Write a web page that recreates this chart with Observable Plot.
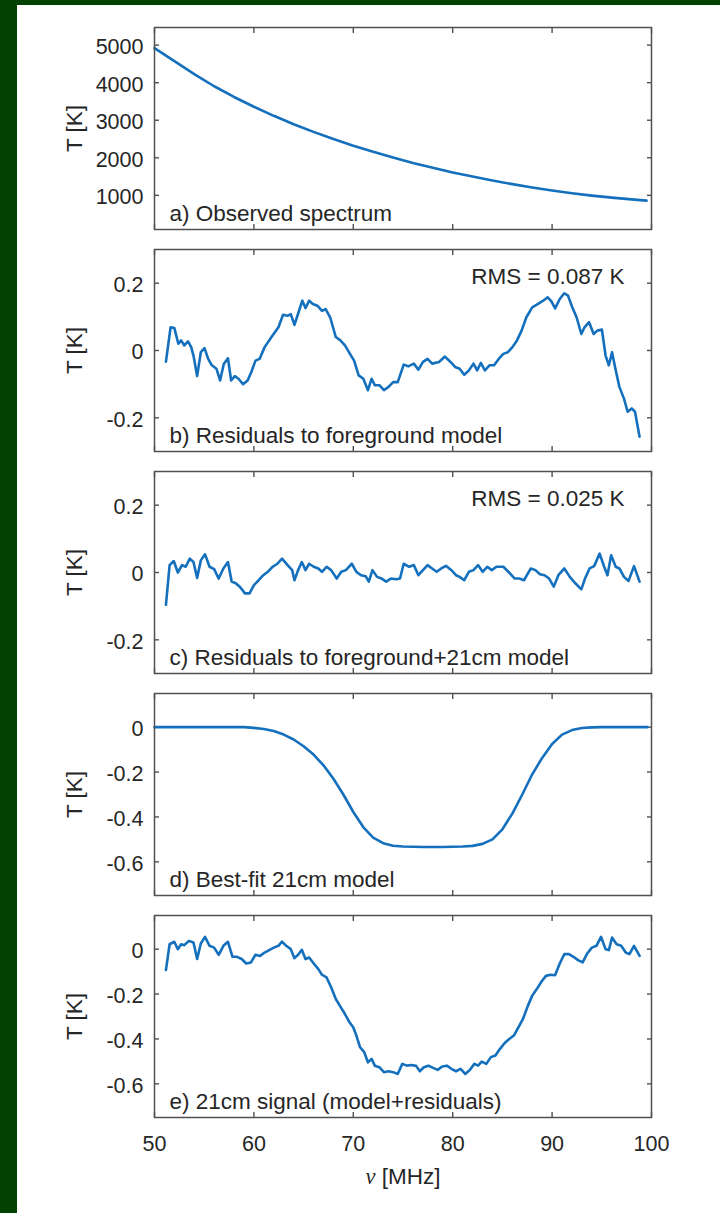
<!DOCTYPE html>
<html>
<head>
<meta charset="utf-8">
<script src="https://cdn.jsdelivr.net/npm/d3@7"></script>
<script src="https://cdn.jsdelivr.net/npm/@observablehq/plot@0.6"></script>
<style>
  html, body { margin: 0; padding: 0; }
  body { width: 720px; height: 1213px; background: #014101; position: relative; overflow: hidden; }
  #sheet { position: absolute; left: 17px; top: 5px; width: 703px; height: 1208px; background: #fff; }
  .panel { position: absolute; left: 0; }
</style>
</head>
<body>
<div id="sheet"></div>
<div id="chart"></div>
<script>
// ---------------- data ----------------
const xTicks = [50, 60, 70, 80, 90, 100];
const yTicksA = [1000, 2000, 3000, 4000, 5000];
const yTicksRes = [-0.2, 0, 0.2];
const yTicksSig = [-0.6, -0.4, -0.2, 0];

const panelLabels = [
  "a) Observed spectrum",
  "b) Residuals to foreground model",
  "c) Residuals to foreground+21cm model",
  "d) Best-fit 21cm model",
  "e) 21cm signal (model+residuals)"
];
const rmsLabels = ["RMS = 0.087 K", "RMS = 0.025 K"];
const yLabel = "T [K]";
const xLabel = "ν [MHz]";

// a) observed spectrum
const freqA = [50,52,54,56,58,60,62,64,66,68,70,72,74,76,78,80,82,84,86,88,90,92,94,96,98,99.5];
const tempA = [4920,4575,4230,3905,3620,3360,3118,2895,2690,2498,2320,2158,2005,1862,1732,1610,1500,1395,1298,1208,1127,1055,992,938,892,860];

// b) residuals to foreground model
const freqB = [51.15,51.62,51.99,52.40,52.68,53.00,53.37,53.69,53.92,54.29,54.66,55.03,55.40,55.77,56.23,56.60,56.97,57.39,57.71,58.08,58.45,58.91,59.37,59.74,60.16,60.57,61.08,61.77,62.47,62.93,63.39,63.71,64.08,64.54,64.87,65.19,65.56,65.93,66.39,66.85,67.22,67.68,68.24,68.70,69.16,69.62,70.08,70.54,71.01,71.47,71.84,72.16,72.62,73.08,73.55,74.01,74.47,75.07,75.53,76.09,76.55,77.01,77.47,77.93,78.62,79.22,79.78,80.24,80.70,81.16,81.63,82.09,82.46,82.83,83.24,83.70,84.16,84.63,85.09,85.55,86.01,86.47,86.93,87.40,88.00,88.55,89.10,89.56,89.93,90.30,90.77,91.23,91.60,92.01,92.47,92.94,93.26,93.72,94.18,94.55,95.01,95.38,95.71,96.03,96.40,96.77,97.23,97.60,98.01,98.34,98.80];
const resB = [-0.033,0.069,0.067,0.02,0.03,0.015,0.027,0.01,-0.015,-0.076,-0.005,0.007,-0.025,-0.044,-0.054,-0.089,-0.04,-0.023,-0.089,-0.076,-0.084,-0.10,-0.089,-0.064,-0.03,-0.025,0.01,0.04,0.069,0.106,0.103,0.108,0.076,0.118,0.148,0.126,0.148,0.138,0.133,0.118,0.123,0.098,0.04,0.03,0.015,-0.008,-0.03,-0.074,-0.084,-0.118,-0.084,-0.103,-0.103,-0.118,-0.108,-0.094,-0.094,-0.042,-0.047,-0.039,-0.057,-0.034,-0.025,-0.039,-0.034,-0.018,-0.034,-0.049,-0.054,-0.072,-0.059,-0.039,-0.059,-0.037,-0.059,-0.044,-0.044,-0.025,-0.01,-0.005,0.01,0.03,0.059,0.098,0.128,0.138,0.148,0.158,0.146,0.125,0.153,0.17,0.163,0.13,0.098,0.049,0.069,0.084,0.049,0.059,0.062,-0.015,-0.044,-0.005,-0.059,-0.108,-0.143,-0.182,-0.172,-0.182,-0.256];

// c) residuals to foreground + 21cm model
const freqC = [51.15,51.52,51.94,52.35,52.77,53.14,53.55,53.92,54.29,54.66,55.08,55.54,56.00,56.46,56.93,57.39,57.76,58.17,58.63,59.10,59.56,60.02,60.48,60.94,61.40,61.87,62.37,62.83,63.39,63.85,64.08,64.45,64.82,65.19,65.56,66.02,66.48,66.85,67.31,67.77,68.33,68.79,69.25,69.85,70.31,70.78,71.24,71.56,71.93,72.39,72.85,73.31,73.78,74.33,74.70,75.07,75.62,76.09,76.55,77.01,77.47,77.93,78.39,78.85,79.32,79.87,80.33,80.70,81.16,81.63,82.09,82.55,83.01,83.47,83.93,84.40,85.09,85.78,86.24,86.70,87.17,87.86,88.32,88.78,89.24,89.70,90.17,90.63,91.23,91.78,92.34,92.94,93.31,93.77,94.23,94.78,95.24,95.57,95.94,96.40,96.77,97.23,97.69,98.24,98.80];
const resC = [-0.096,0.022,0.034,0,0.022,0.017,0.041,0.031,-0.016,0.036,0.054,0.017,0.01,-0.018,0.012,0.031,-0.027,-0.032,-0.044,-0.062,-0.062,-0.037,-0.023,-0.008,0.002,0.017,0.026,0.041,0.022,0.007,-0.023,0.007,0.031,0.007,0.026,0.017,0.012,0.002,0.017,0.007,-0.018,0.002,0.007,0.026,0.002,-0.008,-0.011,-0.027,0.007,-0.013,-0.018,-0.027,-0.018,-0.02,-0.018,0.026,0.017,0.022,-0.008,0.007,0.022,0.012,0.002,0.012,0.02,0.007,-0.008,-0.013,-0.023,0.002,0.007,0.022,0.002,0.017,0.007,0.017,0.017,-0.003,-0.018,-0.018,-0.023,0.012,0.007,-0.005,-0.008,-0.018,-0.042,-0.008,0.012,-0.013,-0.032,-0.05,-0.018,0.012,0.019,0.056,0.017,-0.008,0.051,0.017,0.012,-0.013,-0.025,0.019,-0.027];

// d) best-fit 21cm model
const freqD = [50,51,52,53,54,55,56,57,58,59,60,61,62,63,64,65,66,67,68,69,70,71,72,73,74,75,76,77,78,79,80,81,82,83,84,85,86,87,88,89,90,91,92,93,94,95,96,97,98,99,99.6];
const modelD = [0,0,0,0,0,0,0,0,0,0,-0.003,-0.008,-0.017,-0.033,-0.055,-0.085,-0.122,-0.17,-0.23,-0.30,-0.378,-0.445,-0.492,-0.517,-0.528,-0.532,-0.533,-0.534,-0.534,-0.534,-0.533,-0.532,-0.529,-0.52,-0.50,-0.455,-0.385,-0.30,-0.21,-0.137,-0.075,-0.033,-0.013,-0.004,-0.001,0,0,0,0,0,0];

// e) 21cm signal (model + residuals)
const freqE = [51.15,51.52,51.99,52.35,52.68,53.00,53.46,53.92,54.29,54.66,55.08,55.54,56.00,56.46,56.93,57.39,57.85,58.31,58.77,59.23,59.70,60.16,60.62,61.08,61.54,62.00,62.47,62.83,63.25,63.71,64.08,64.45,64.82,65.19,65.56,66.02,66.48,66.85,67.31,67.77,68.24,68.70,69.16,69.62,69.99,70.31,70.68,71.10,71.47,71.84,72.16,72.62,73.08,73.55,74.01,74.47,74.93,75.39,75.85,76.32,76.69,77.10,77.56,78.02,78.49,78.95,79.41,79.87,80.33,80.79,81.26,81.72,82.18,82.55,82.92,83.38,83.84,84.30,84.76,85.23,85.69,86.15,86.61,87.07,87.53,88.00,88.46,88.92,89.38,89.84,90.30,90.77,91.23,91.69,92.15,92.61,93.07,93.54,94.00,94.46,94.92,95.38,95.71,96.03,96.49,96.95,97.41,97.78,98.24,98.80];
const signalE = [-0.093,0.022,0.033,0,0.022,0.018,0.037,0.03,-0.044,0.025,0.055,0.015,0.007,-0.025,0.015,0.033,-0.034,-0.034,-0.044,-0.064,-0.059,-0.025,-0.03,-0.015,-0.004,0.007,0.015,0.034,0.015,0,-0.04,-0.025,-0.003,-0.044,-0.037,-0.064,-0.089,-0.114,-0.126,-0.17,-0.222,-0.256,-0.289,-0.326,-0.348,-0.385,-0.437,-0.459,-0.504,-0.489,-0.519,-0.526,-0.548,-0.544,-0.548,-0.556,-0.511,-0.519,-0.516,-0.52,-0.544,-0.526,-0.519,-0.529,-0.538,-0.523,-0.519,-0.533,-0.544,-0.533,-0.556,-0.538,-0.511,-0.519,-0.501,-0.511,-0.481,-0.474,-0.444,-0.418,-0.4,-0.385,-0.348,-0.311,-0.256,-0.207,-0.178,-0.145,-0.119,-0.114,-0.116,-0.064,-0.022,-0.022,-0.034,-0.049,-0.059,-0.019,0.007,0.015,0.055,0,-0.004,0.052,0.022,0.015,-0.015,-0.022,0.015,-0.03];

// ---------------- drawing ----------------
const zip = (xs, ys) => xs.slice(0, Math.min(xs.length, ys.length)).map((f, i) => ({f, v: ys[i]}));
const BLUE = "#1470bd";
const AXIS = "#505050";
const TEXT = "#262626";
const FONT = "'Liberation Sans', Arial, Helvetica, sans-serif";
const fmt = d => String(d);
const blank = () => "";

const panels = [
  {data: zip(freqA, tempA), domain: [90, 5470], ticks: yTicksA, label: panelLabels[0], rms: null},
  {data: zip(freqB, resB), domain: [-0.3, 0.3], ticks: yTicksRes, label: panelLabels[1], rms: rmsLabels[0]},
  {data: zip(freqC, resC), domain: [-0.3, 0.3], ticks: yTicksRes, label: panelLabels[2], rms: rmsLabels[1]},
  {data: zip(freqD, modelD), domain: [-0.75, 0.15], ticks: yTicksSig, label: panelLabels[3], rms: null},
  {data: zip(freqE, signalE), domain: [-0.75, 0.15], ticks: yTicksSig, label: panelLabels[4], rms: null}
];

const frameTops = [27, 249, 471, 693, 915];
const frameH = 202;
const mTop = 10;
const chart = document.getElementById("chart");

panels.forEach((p, i) => {
  const last = i === panels.length - 1;
  const mBottom = last ? 90 : 10;
  const marks = [
    Plot.axisY({anchor: "left", ticks: p.ticks, tickSize: 0, tickPadding: 11, tickFormat: fmt, label: null, fill: TEXT, dy: 2, fontSize: 21.5}),
    Plot.axisY({anchor: "left", ticks: p.ticks, tickSize: -5, tickFormat: blank, label: null, stroke: AXIS, strokeWidth: 1.4}),
    Plot.axisY({anchor: "right", ticks: p.ticks, tickSize: -5, tickFormat: blank, label: null, stroke: AXIS, strokeWidth: 1.4}),
    Plot.axisX({anchor: "top", ticks: xTicks, tickSize: -5, tickFormat: blank, label: null, stroke: AXIS, strokeWidth: 1.4}),
    Plot.axisX({anchor: "bottom", ticks: xTicks, tickSize: -5, tickFormat: blank, label: null, stroke: AXIS, strokeWidth: 1.4}),
    Plot.line(p.data, {x: "f", y: "v", stroke: BLUE, strokeWidth: 2.6, strokeLinejoin: "round"}),
    Plot.frame({stroke: AXIS, strokeWidth: 1.5}),
    Plot.text([p.label], {frameAnchor: "bottom-left", dx: 15, dy: -16, textAnchor: "start", lineAnchor: "middle", fill: TEXT, fontSize: 22.5}),
    Plot.text([yLabel], {frameAnchor: "left", dx: -80, rotate: -90, textAnchor: "middle", lineAnchor: "middle", fill: TEXT, fontSize: 22.5})
  ];
  if (p.rms) {
    marks.push(Plot.text([p.rms], {frameAnchor: "top-right", dx: -27, dy: 27, textAnchor: "end", lineAnchor: "middle", fill: TEXT, fontSize: 22.5}));
  }
  if (last) {
    marks.push(Plot.axisX({anchor: "bottom", ticks: xTicks, tickSize: 0, tickPadding: 18, tickFormat: fmt, label: null, fill: TEXT, fontSize: 21.5}));
    marks.push(Plot.text([xLabel], {frameAnchor: "bottom", dy: 59, textAnchor: "middle", lineAnchor: "middle", fill: TEXT, fontSize: 22.5}));
  }
  const svg = Plot.plot({
    width: 720,
    height: frameH + mTop + mBottom,
    marginLeft: 154,
    marginRight: 69,
    marginTop: mTop,
    marginBottom: mBottom,
    x: {domain: [50, 100]},
    y: {domain: p.domain},
    style: {fontFamily: FONT, fontSize: "21.5px", color: TEXT, background: "transparent", overflow: "visible"},
    marks
  });
  svg.classList.add("panel");
  svg.style.position = "absolute";
  svg.style.top = (frameTops[i] - mTop) + "px";
  svg.style.left = "0px";
  chart.appendChild(svg);
});

// italic nu in the x label
d3.selectAll("#chart text").each(function() {
  if (this.textContent === xLabel) {
    const t = d3.select(this);
    t.text(null);
    t.append("tspan").attr("font-style", "italic").attr("font-family", "'Liberation Serif', 'DejaVu Serif', serif").text("ν");
    t.append("tspan").text(" [MHz]");
  }
});
</script>
</body>
</html>
